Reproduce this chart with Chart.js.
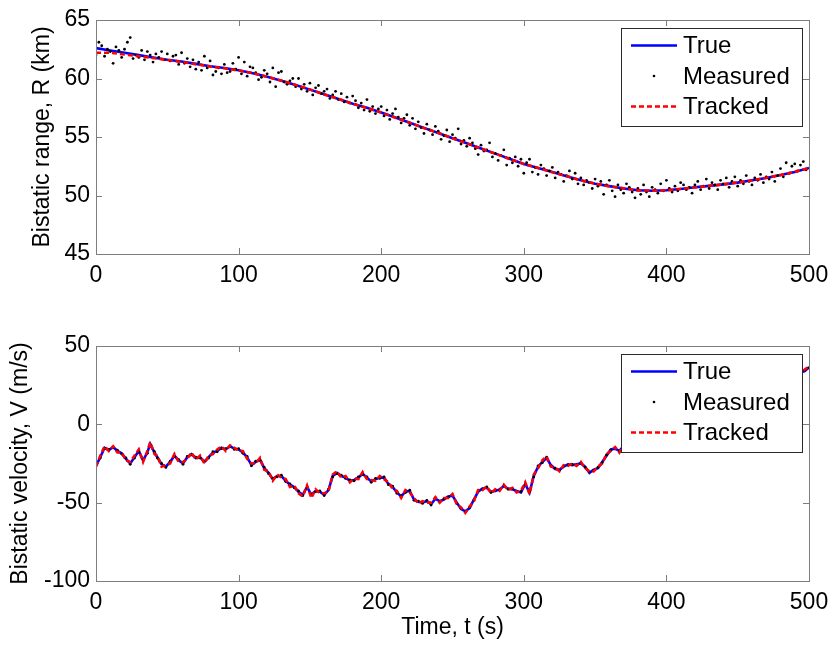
<!DOCTYPE html>
<html><head><meta charset="utf-8">
<script src="https://cdn.jsdelivr.net/npm/chart.js@4.4.0/dist/chart.umd.min.js"></script>
<style>
html,body{margin:0;padding:0;background:#fff;}
#wrap{position:relative;width:831px;height:645px;overflow:hidden;}
#c1{position:absolute;left:0;top:0;}
#c2{position:absolute;left:0;top:290px;}
</style></head><body>
<div id="wrap"><canvas id="c1" width="831" height="290"></canvas><canvas id="c2" width="831" height="355"></canvas></div>
<script>
// ---------- Top panel: bistatic range (km) ----------
const rangeLineStep = 10;   // s between samples of the true / tracked range
const rangeTrue = [62.6,62.4,62.2,62.0,61.8,61.6,61.45,61.25,61.05,60.9,60.7,60.45,60.15,59.8,59.45,59.05,58.65,58.25,57.85,57.5,57.1,56.66,56.22,55.78,55.34,54.9,54.46,54.02,53.58,53.14,52.7,52.35,52.0,51.65,51.3,51.0,50.8,50.6,50.45,50.4,50.45,50.55,50.7,50.82,50.95,51.1,51.3,51.5,51.75,52.0,52.35];
const rangeTracked = [62.2,62.2,62.05,61.9,61.75,61.58,61.42,61.22,61.03,60.87,60.68,60.46,60.14,59.82,59.44,59.06,58.64,58.26,57.84,57.48,57.1,56.64,56.23,55.76,55.35,54.9,54.47,54.0,53.58,53.12,52.7,52.36,51.98,51.66,51.28,51.02,50.78,50.62,50.44,50.42,50.44,50.57,50.68,50.82,50.95,51.12,51.28,51.52,51.74,52.02,52.33];
const rangeMeasStep = 2;    // s between range measurements
const rangeMeasured = [
 62.0,63.1,62.8,61.9,62.5,62.3,61.3,62.7,62.4,61.8,
 62.5,63.1,63.5,61.7,62.0,61.8,62.4,61.6,62.3,62.0,
 61.4,62.1,61.8,62.3,61.6,62.1,61.5,61.9,62.0,61.2,
 62.2,61.3,61.7,61.0,61.6,60.8,61.4,60.7,61.9,60.9,
 61.5,60.3,60.6,60.9,60.4,61.2,60.5,60.6,61.3,60.8,
 61.8,60.4,61.4,60.2,61.0,60.9,60.5,59.9,60.1,60.7,
 60.4,59.7,60.9,59.3,60.5,60.6,59.7,59.5,59.8,60.0,
 59.3,60.0,59.1,59.5,58.9,59.6,58.6,59.2,59.4,58.7,
 58.9,59.1,58.3,58.6,58.9,58.2,58.7,58.0,58.4,57.9,
 58.5,58.1,57.5,57.9,57.3,58.2,57.2,57.6,57.0,57.4,
 57.6,56.8,57.3,56.5,57.0,57.4,56.7,56.2,56.6,56.9,
 56.0,56.6,55.7,56.3,55.8,55.3,56.1,55.6,55.2,55.9,
 55.5,54.8,55.1,55.6,54.6,55.2,54.9,55.7,54.4,54.7,
 54.2,54.9,54.5,54.0,53.5,54.3,53.8,53.9,54.5,53.3,
 53.6,53.0,53.4,53.9,52.6,53.2,52.8,53.3,52.5,53.1,
 51.9,52.8,53.1,52.0,52.4,51.8,52.6,52.3,51.7,52.1,
 52.4,51.5,52.0,51.8,51.2,51.7,52.1,51.4,51.9,51.0,
 51.5,50.9,51.3,51.1,50.6,51.4,50.8,51.2,50.1,50.9,
 51.3,50.4,49.9,50.9,50.5,50.2,51.0,50.7,50.3,49.8,
 50.6,50.1,50.9,50.3,49.9,50.7,50.5,50.2,51.0,50.4,
 51.3,50.6,50.3,50.8,50.4,51.1,50.9,50.5,50.7,50.2,
 50.9,51.2,50.5,50.8,51.4,50.6,51.1,50.9,50.5,51.3,
 51.0,51.5,50.7,51.2,51.6,50.8,51.3,51.0,51.7,51.2,
 50.9,51.5,51.3,51.8,51.1,51.6,51.4,52.0,51.2,51.7,
 52.3,51.6,52.8,51.9,52.5,52.7,52.1,52.6,52.9,52.2];

// ---------- Bottom panel: bistatic velocity (m/s) ----------
const velTime = [
 0,3,6,9,12,15,18,21,24,27,
 30,33,36,38,41,43,46,49,52,55,
 58,61,64,67,70,73,76,79,82,85,
 88,91,94,97,100,103,106,109,112,115,
 118,121,124,127,130,133,136,139,142,145,
 148,151,154,157,160,163,166,169,172,175,
 178,181,184,187,190,193,196,199,202,205,
 208,211,214,217,220,223,226,229,232,235,
 238,241,244,247,250,253,256,259,262,265,
 268,271,274,277,280,283,286,289,292,295,
 298,301,304,307,310,313,316,319,322,325,
 328,331,334,337,340,343,346,349,352,355,
 358,361,364,367,370,380,390,400,410,420,
 430,440,450,460,470,480,490,494,497,500];
const velTrue = [
 -26.5,-21,-15,-16.5,-14.5,-17,-18.5,-22,-25,-21,
 -17,-23,-18,-12.5,-18,-21,-25.5,-27,-24,-20,
 -23,-25,-21,-19,-21.5,-21,-24,-21,-18,-17,
 -15,-16,-14,-15.5,-16,-18,-21,-26,-24,-22.5,
 -28,-31,-35,-33,-33,-36,-38.5,-40,-43,-45,
 -40,-45,-42.5,-43,-45,-42,-33,-31,-33,-34,
 -36,-35.5,-34,-31.5,-34,-36.5,-35,-34,-34,-38,
 -40,-43.5,-46,-43,-42.5,-48,-49.5,-50,-49,-51,
 -47.5,-49,-48,-46,-45.5,-50,-54,-55.5,-53.5,-48,
 -43,-41,-40.5,-43,-42.5,-41.5,-39.5,-41,-41.5,-42.5,
 -43.5,-38,-43.5,-33,-27,-24,-21.5,-26,-28.5,-29,
 -27,-25.5,-26,-25.5,-25,-27,-31,-29,-28,-24,
 -20,-16,-15.5,-17,-14,-8,-2,3,6,4,
 10,14,12,18,22,26,29,33,34,36.5];
const velTracked = [
 -27,-20,-14,-17,-14,-18,-18,-23,-24,-20,
 -16,-24,-17,-11.5,-19,-20,-27,-26,-25,-19,
 -24,-24,-22,-18,-22.5,-20,-25,-20,-19,-16,
 -14,-17,-13.5,-15,-17,-17,-22,-25,-25,-21.5,
 -29,-30,-36,-32,-34,-35,-40,-39,-44,-46,
 -39,-47,-41.5,-44,-44,-43,-32,-30,-34,-33,
 -37,-34.5,-35,-30.5,-35,-35.5,-36,-33,-35,-37,
 -41,-42.5,-47,-42,-43.5,-47,-50.5,-49,-50,-50,
 -46.5,-50,-47,-47,-44.5,-51,-53,-56.5,-52.5,-49,
 -42,-42,-39.5,-44,-41.5,-42.5,-38.5,-42,-40.5,-43.5,
 -42.5,-37,-44.5,-32,-28,-23,-20.5,-27,-27.5,-30,
 -26,-26.5,-25,-26.5,-24,-28,-30,-30,-27,-25,
 -19,-17,-14.5,-18,-13,-7,-3,4,5,5,
 9,15,11,19,21,27,28,32,35,37];
const velMeasured = [
 -26,-21.5,-15.5,-16,-15,-16.5,-19,-21.5,-25.5,-21.5,
 -17.5,-22.5,-18.5,-13,-17.5,-21.5,-25,-27.5,-23.5,-20.5,
 -22.5,-25.5,-20.5,-19.5,-21,-21.5,-23.5,-21.5,-17.5,-17.5,
 -15.5,-15.5,-14,-16,-15.5,-18.5,-20.5,-26.5,-23.5,-23,
 -27.5,-31.5,-34.5,-33.5,-32.5,-36.5,-38,-40.5,-42.5,-45.5,
 -40.5,-44.5,-43,-42.5,-45.5,-41.5,-33.5,-31.5,-32.5,-34.5,
 -35.5,-36,-33.5,-32,-33.5,-37,-34.5,-34.5,-33.5,-38.5,
 -39.5,-44,-45.5,-43.5,-42,-48.5,-49,-50.5,-48.5,-51.5,
 -47,-49.5,-47.5,-46.5,-45,-50.5,-53.5,-56,-53,-48.5,
 -42.5,-41.5,-40,-43.5,-42,-42,-39,-41.5,-41,-43,
 -43,-38.5,-43,-33.5,-26.5,-24.5,-21,-26.5,-28,-29.5,
 -26.5,-26,-25.5,-26,-24.5,-27.5,-30.5,-29.5,-27.5,-24.5,
 -19.5,-16.5,-15,-17.5,-13.5,-8.5,-1.5,2.5,6.5,3.5,
 10.5,13.5,12.5,17.5,22.5,25.5,29.5,32.5,34.5,36];

const seriesNames = ['True','Measured','Tracked'];
const xTicksStep = 100;

// ---------- helpers ----------
const FONT = "'Liberation Sans', Arial, Helvetica, sans-serif";
const BLUE = '#0000ff', RED = '#ff0000', BLACK = '#000000';

const stepXY = (vals, step) => vals.map((v, i) => ({x: i * step, y: v}));
const pairXY = (ts, vals) => ts.map((t, i) => ({x: t, y: vals[i]}));

const framePlugin = {
  id: 'mframe',
  afterDatasetsDraw(chart) {
    const {ctx, chartArea: a, scales: {x, y}} = chart;
    ctx.save();
    ctx.strokeStyle = '#7d7d7d';
    ctx.lineWidth = 1;
    const L = Math.round(a.left), R = Math.round(a.right), T = Math.round(a.top), B = Math.round(a.bottom);
    ctx.strokeRect(L + 0.5, T + 0.5, R - L, B - T);
    const len = 6;
    ctx.beginPath();
    x.ticks.forEach(t => {
      const px = Math.round(x.getPixelForValue(t.value)) + 0.5;
      ctx.moveTo(px, B); ctx.lineTo(px, B - len);
      ctx.moveTo(px, T); ctx.lineTo(px, T + len);
    });
    y.ticks.forEach(t => {
      const py = Math.round(y.getPixelForValue(t.value)) + 0.5;
      ctx.moveTo(L, py); ctx.lineTo(L + len, py);
      ctx.moveTo(R, py); ctx.lineTo(R - len, py);
    });
    ctx.stroke();
    ctx.restore();
  }
};

const legendPlugin = {
  id: 'mlegend',
  afterDatasetsDraw(chart) {
    const {ctx, chartArea: a} = chart;
    const w = 181, h = 98;
    const bx = Math.round(a.right) - 7 - w, by = Math.round(a.top) + 8;
    ctx.save();
    ctx.fillStyle = '#ffffff';
    ctx.fillRect(bx, by, w, h);
    ctx.strokeStyle = '#2a2a2a';
    ctx.lineWidth = 1;
    ctx.strokeRect(bx + 0.5, by + 0.5, w, h);
    const rows = [17.5, 48, 78.5];
    ctx.font = '24px ' + FONT;
    ctx.textBaseline = 'middle';
    ctx.textAlign = 'left';
    seriesNames.forEach((name, i) => {
      const ds = chart.data.datasets.find(d => d.label === name);
      const yy = by + rows[i];
      if (name === 'Measured') {
        ctx.fillStyle = BLACK;
        ctx.beginPath(); ctx.arc(bx + 33, yy, 1.3, 0, Math.PI * 2); ctx.fill();
      } else {
        ctx.strokeStyle = ds.borderColor;
        ctx.lineWidth = ds.borderWidth;
        ctx.setLineDash(ds.borderDash || []);
        ctx.beginPath(); ctx.moveTo(bx + 10, yy); ctx.lineTo(bx + 56, yy); ctx.stroke();
        ctx.setLineDash([]);
      }
      ctx.fillStyle = BLACK;
      ctx.fillText(name, bx + 62, yy + 1);
    });
    ctx.restore();
  }
};

function makeChart(canvasId, cfg) {
  return new Chart(document.getElementById(canvasId), {
    type: 'scatter',
    data: {
      datasets: [
        {label: 'Tracked', data: cfg.tracked, showLine: true, pointRadius: 0, borderColor: RED, borderWidth: 2.6, borderDash: [5, 3], tension: 0, order: 0},
        {label: 'Measured', data: cfg.measured, showLine: false, pointRadius: 1.4, pointBorderWidth: 0, backgroundColor: BLACK, borderColor: BLACK, order: 1},
        {label: 'True', data: cfg.truth, showLine: true, pointRadius: 0, borderColor: BLUE, borderWidth: 2.6, tension: 0, order: 2}
      ]
    },
    options: {
      responsive: false,
      animation: false,
      events: [],
      layout: {padding: {top: cfg.padTop, right: 22, left: 0, bottom: 0}},
      plugins: {legend: {display: false}, tooltip: {enabled: false}},
      scales: {
        x: {
          type: 'linear', min: 0, max: 500,
          ticks: {stepSize: xTicksStep, font: {family: FONT, size: 23}, color: BLACK, padding: 8, maxRotation: 0, autoSkip: false},
          grid: {display: false, drawTicks: false, tickLength: 0},
          border: {display: false},
          title: cfg.xTitle ? {display: true, text: cfg.xTitle, font: {family: FONT, size: 23}, color: BLACK, padding: {top: 0, bottom: 4}} : {display: false},
          afterFit(s) { s.height = cfg.xHeight; s.paddingLeft = 0; s.paddingRight = 0; }
        },
        y: {
          type: 'linear', min: cfg.yMin, max: cfg.yMax,
          ticks: {stepSize: cfg.yStep, font: {family: FONT, size: 23}, color: BLACK, padding: 6, autoSkip: false},
          grid: {display: false, drawTicks: false, tickLength: 0},
          border: {display: false},
          title: {display: true, text: cfg.yTitle, font: {family: FONT, size: 23}, color: BLACK, padding: {top: cfg.yTitlePad, bottom: 0}},
          afterFit(s) { s.width = 96; s.paddingTop = 0; s.paddingBottom = 0; }
        }
      }
    },
    plugins: [framePlugin, legendPlugin]
  });
}

makeChart('c1', {
  truth: stepXY(rangeTrue, rangeLineStep),
  tracked: stepXY(rangeTracked, rangeLineStep),
  measured: stepXY(rangeMeasured, rangeMeasStep),
  padTop: 20, xHeight: 36,
  yMin: 45, yMax: 65, yStep: 5, yTitlePad: 29,
  yTitle: 'Bistatic range, R (km)', xTitle: null
});

makeChart('c2', {
  truth: pairXY(velTime, velTrue),
  tracked: pairXY(velTime, velTracked),
  measured: pairXY(velTime, velMeasured),
  padTop: 56, xHeight: 64,
  yMin: -100, yMax: 50, yStep: 50, yTitlePad: 7,
  yTitle: 'Bistatic velocity, V (m/s)', xTitle: 'Time, t (s)'
});
</script>
</body></html>
